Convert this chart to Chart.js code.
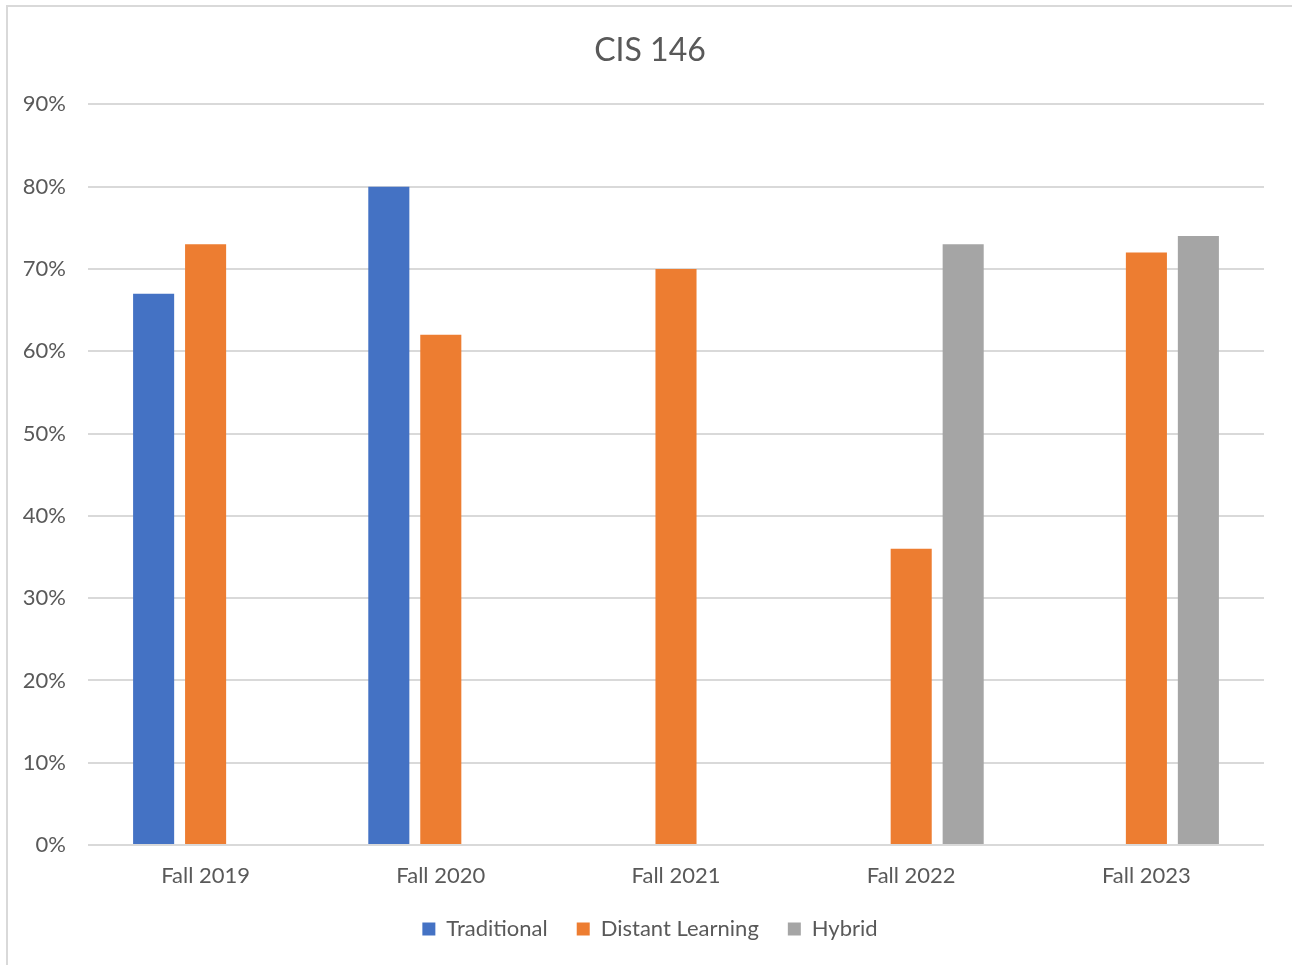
<!DOCTYPE html>
<html>
<head>
<meta charset="utf-8">
<script src="https://cdn.jsdelivr.net/npm/chart.js@4.4.0/dist/chart.umd.min.js"></script>
<style>
  html, body { margin: 0; padding: 0; background: #fff; overflow: hidden; }
  #frame { position: absolute; left: 6px; top: 5px; width: 1400px; height: 1100px; border: 2px solid #d9d9d9; }
  #wrap { position: absolute; left: 0; top: 0; width: 1292px; height: 965px; }
</style>
</head>
<body>
<div id="frame"></div>
<div id="wrap"><canvas id="myChart" width="1292" height="965"></canvas></div>
<script>
// data (percent)
var semesters = ['Fall 2019', 'Fall 2020', 'Fall 2021', 'Fall 2022', 'Fall 2023'];
var traditional = [67, 80, null, null, null];
var distantLearning = [73, 62, 70, 36, 72];
var hybrid = [null, null, null, 73, 74];
var seriesNames = ['Traditional', 'Distant Learning', 'Hybrid'];
var seriesColors = ['#4472C4', '#ED7D31', '#A5A5A5'];

var txtColor = '#595959';
var fontFam = 'Lato, "Open Sans", sans-serif';

// title and legend are centred over the plot like in Excel, not over the whole canvas
const centerBoxes = {
    id: 'centerBoxes',
    afterLayout: function (chart) {
        var l = 36, r = chart.chartArea.right;
        chart.titleBlock.left = l; chart.titleBlock.right = r;
        chart.legend.left = l; chart.legend.right = r;
    }
};

const ctx = document.getElementById('myChart');
new Chart(ctx, {
    type: 'bar',
    data: {
        labels: semesters,
        datasets: [
            { label: seriesNames[0], data: traditional, backgroundColor: seriesColors[0] },
            { label: seriesNames[1], data: distantLearning, backgroundColor: seriesColors[1] },
            { label: seriesNames[2], data: hybrid, backgroundColor: seriesColors[2] }
        ]
    },
    plugins: [centerBoxes],
    options: {
        responsive: false,
        animation: false,
        maintainAspectRatio: false,
        categoryPercentage: 0.663,
        barPercentage: 0.79,
        layout: { padding: { left: 8, right: 28, top: 0, bottom: 15 } },
        plugins: {
            title: {
                display: true,
                text: 'CIS 146',
                color: txtColor,
                font: { family: fontFam, size: 32, weight: 'normal' },
                padding: { top: 31, bottom: 35 }
            },
            legend: {
                position: 'bottom',
                labels: {
                    color: txtColor,
                    font: { family: fontFam, size: 22 },
                    boxWidth: 13,
                    boxHeight: 13,
                    padding: 29
                }
            },
            tooltip: { enabled: false }
        },
        scales: {
            x: {
                afterFit: function (scale) { scale.height = 44; },
                grid: { display: false, drawTicks: false },
                border: { display: false },
                ticks: { color: txtColor, font: { family: fontFam, size: 22 }, padding: 18 }
            },
            y: {
                min: 0,
                max: 90,
                afterFit: function (scale) { scale.width = 80; },
                grid: { color: '#d9d9d9', lineWidth: 2, drawTicks: false },
                border: { display: false },
                ticks: {
                    stepSize: 10,
                    color: txtColor,
                    padding: 22,
                    font: { family: fontFam, size: 22 },
                    callback: function (v) { return v + '%'; }
                }
            }
        }
    }
});
</script>
</body>
</html>
